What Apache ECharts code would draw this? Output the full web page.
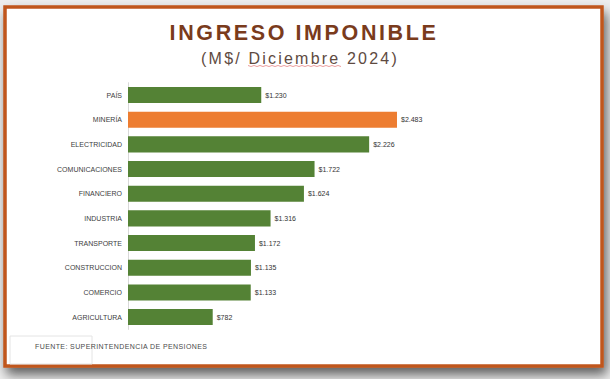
<!DOCTYPE html>
<html>
<head>
<meta charset="utf-8">
<script src="https://cdn.jsdelivr.net/npm/echarts@6/dist/echarts.min.js"></script>
<style>
html,body{margin:0;padding:0;background:#eeeeee;}
#c{width:610px;height:379px;}
#c svg text[fill="#7a3b1c"]{letter-spacing:2.6px;}
#c svg text[fill="#5e4a41"]{letter-spacing:2.2px;}
#c svg text[fill="#4a4a4b"]{letter-spacing:0.4px;}
</style>
</head>
<body>
<div id="c"></div>
<script>
var categories = ['PAÍS','MINERÍA','ELECTRICIDAD','COMUNICACIONES','FINANCIERO','INDUSTRIA','TRANSPORTE','CONSTRUCCION','COMERCIO','AGRICULTURA'];
var values = [1230, 2483, 2226, 1722, 1624, 1316, 1172, 1135, 1133, 782];
var highlight = 'MINERÍA';
var titleText = 'INGRESO IMPONIBLE';
var subtitleText = '(M$/ Diciembre 2024)';
var sourceText = 'FUENTE: SUPERINTENDENCIA DE PENSIONES';

function fmt(v){
  var s = String(v);
  return '$' + s.replace(/\B(?=(\d{3})+(?!\d))/g, '.');
}

var chart = echarts.init(document.getElementById('c'), null, {renderer:'svg'});
var labelFont = '"Liberation Sans Narrow","Arial Narrow","Liberation Sans",sans-serif';

var wave = [];
for (var wx = 248; wx <= 342; wx += 3) { wave.push([wx, (Math.round((wx-248)/3) % 2) ? 66.5 : 65.5]); }

chart.setOption({
  backgroundColor:'#eeeeee',
  animation:false,
  graphic:[
    {type:'rect', z:-10, shape:{x:5,y:7,width:597,height:359},
     style:{fill:'#ffffff', stroke:'#c0561e', lineWidth:3.5,
            shadowBlur:12, shadowOffsetY:7, shadowOffsetX:3, shadowColor:'rgba(0,0,0,0.6)'}},
    {type:'rect', z:-5, shape:{x:10,y:336,width:82,height:28},
     style:{fill:'#ffffff', stroke:'#e4e4e4', lineWidth:1}},
    {type:'text', z:5, x:304, y:33,
     style:{text:titleText, fill:'#7a3b1c', font:'bold 21.5px "Liberation Sans",Arial,sans-serif',
            textAlign:'center', textVerticalAlign:'middle'}},
    {type:'text', z:5, x:300, y:58.5,
     style:{text:subtitleText, fill:'#5e4a41', font:'16px "Liberation Sans",Arial,sans-serif',
            textAlign:'center', textVerticalAlign:'middle'}},
    {type:'polyline', z:5, shape:{points:wave},
     style:{stroke:'rgba(220,90,90,0.75)', lineWidth:0.8, fill:null}},
    {type:'text', z:5, x:35, y:346,
     style:{text:sourceText, fill:'#4a4a4b', font:'7px "Liberation Sans",Arial,sans-serif',
            textAlign:'left', textVerticalAlign:'middle'}}
  ],
  grid:{left:128, top:82.7, width:325, height:246.7, containLabel:false},
  xAxis:{type:'value', min:0, max:3000, show:false, splitLine:{show:false}},
  yAxis:{type:'category', data:categories, inverse:true,
    axisLine:{show:true, lineStyle:{color:'#d9d9d9', width:1}},
    axisTick:{show:false},
    axisLabel:{color:'#404040', fontSize:7, fontFamily:labelFont, margin:6}
  },
  series:[{
    type:'bar',
    data:values.map(function(v,i){
      return {value:v, itemStyle:{color: categories[i]===highlight ? '#ed7d31' : '#548235'}};
    }),
    barCategoryGap:'35%',
    label:{show:true, position:'right', distance:4, color:'#333333', fontSize:7, fontFamily:labelFont,
      formatter:function(p){return fmt(p.value);}}
  }]
});
</script>
</body>
</html>
